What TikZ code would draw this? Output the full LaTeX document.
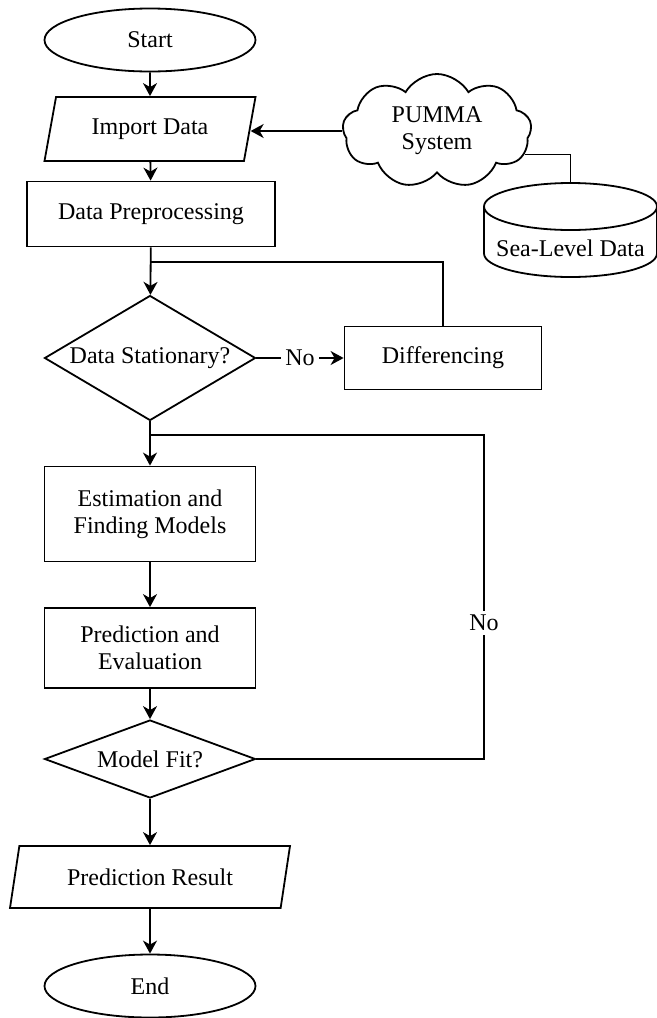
\documentclass[tikz,border=0pt]{standalone}
\usepackage{fontspec}
\setmainfont{Liberation Serif}
\usetikzlibrary{shapes.geometric, shapes.symbols, arrows.meta, positioning, calc}

\begin{document}
\begin{tikzpicture}[x=0.5pt,y=-0.5pt,line width=0.9pt,
  every node/.style={font=\fontsize{12}{13.5}\selectfont, align=center, inner sep=0pt},
  term/.style={draw, ellipse, minimum width=105.5pt, minimum height=31.5pt},
  io/.style={draw, trapezium, trapezium left angle=61, trapezium right angle=119, trapezium stretches body, minimum height=32pt},
  proc/.style={draw, rectangle, minimum width=105.5pt},
  decide/.style={draw, diamond, minimum width=105.5pt},
  lbl/.style={fill=white, inner sep=2pt},
  arr/.style={-{Stealth[length=6.5pt,width=7pt,inset=2pt]}}]
\useasboundingbox (0,0) rectangle (657,1018);
\node[term] (start) at (150,40) {Start};
\node[io, minimum width=105.5pt] (import) at (150,129) {Import Data};
\node[proc, minimum width=124pt, minimum height=32.5pt] (preproc) at (151,214) {Data Preprocessing};
\node[draw, cloud, cloud puffs=9, cloud puff arc=120, aspect=1.55, minimum width=94.5pt, minimum height=57pt] (pumma) at (437,131) {PUMMA\\System};
\node[minimum width=86.5pt, minimum height=47pt] (sealevel) at (570.5,230) {};
\draw (570.5,206.5) ellipse [x radius=43.25pt, y radius=11.75pt];
\draw (484,206.5) -- (484,253.5) arc [start angle=180, end angle=360, x radius=43.25pt, y radius=11.75pt] -- (657,206.5);
\node (sltext) at (570.5,248) {Sea-Level Data};
\node[decide, aspect=1.69, minimum height=62.5pt] (stat) at (150,358) {Data Stationary?};
\node[proc, minimum width=98.5pt, minimum height=31.5pt] (diff) at (443,358) {Differencing};
\node[proc, minimum height=47.5pt] (estim) at (150,514) {Estimation and\\Finding Models};
\node[proc, minimum height=40pt] (eval) at (150,648) {Prediction and\\Evaluation};
\node[decide, aspect=2.7, minimum height=39pt] (fit) at (150,759) {Model Fit?};
\node[io, minimum width=140pt, minimum height=31pt] (result) at (150,877) {Prediction Result};
\node[term] (end) at (150,986) {End};
\coordinate (j1) at (150,262);
\coordinate (j2) at (150,435);
\coordinate (back) at (484,435);
\draw[arr] (start) -- (import);
\draw[arr] (import) -- (preproc);
\draw[arr] (pumma.west) -- (import.east |- pumma.west);
\draw (pumma.-15) -| (sealevel.north);
\draw[arr] (preproc) -- (stat);
\draw[arr] (stat.east) -- node[lbl] {No} (diff.west);
\draw (diff.north) |- (j1);
\draw[arr] (stat.south) -- (estim.north);
\draw (fit.east) -| node[lbl, pos=0.71] {No} (back) -- (j2);
\draw[arr] (estim) -- (eval);
\draw[arr] (eval) -- (fit);
\draw[arr] (fit) -- (result);
\draw[arr] (result) -- (end);
\end{tikzpicture}
\end{document}
